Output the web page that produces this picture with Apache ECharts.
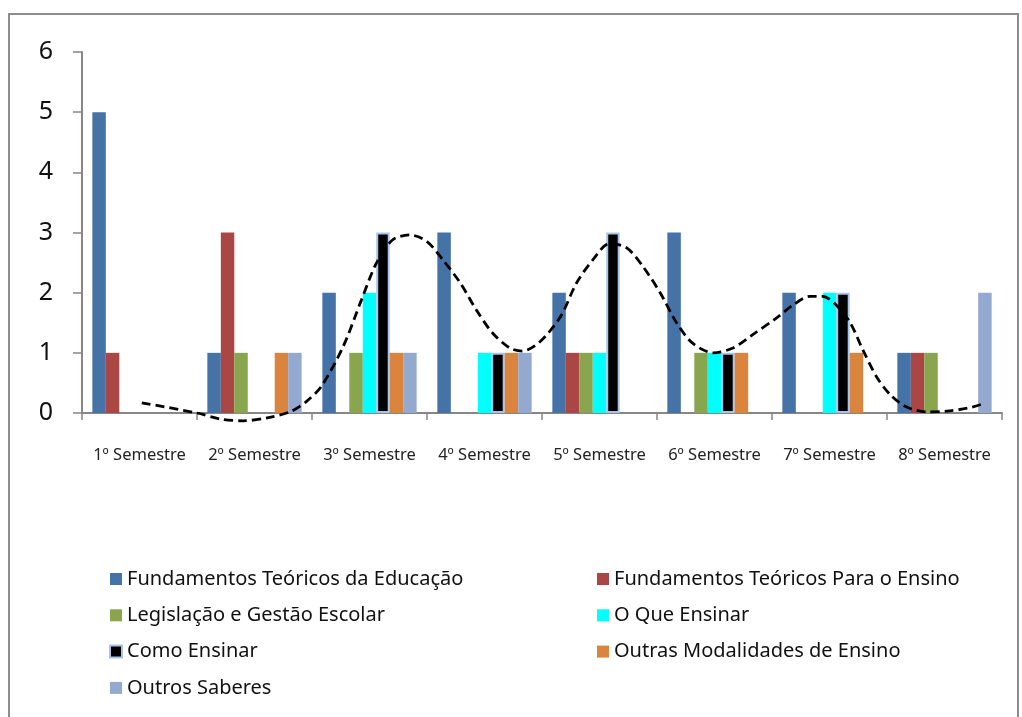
<!DOCTYPE html>
<html>
<head>
<meta charset="utf-8">
<style>
  html, body { margin: 0; padding: 0; background: #ffffff; }
  #chart { width: 1022px; height: 717px; }
</style>
<script src="https://cdn.jsdelivr.net/npm/echarts@6/dist/echarts.min.js"></script>
</head>
<body>
<div id="chart"></div>
<script>
// Semesters on the category axis
const semesters = ['1º Semestre', '2º Semestre', '3º Semestre', '4º Semestre',
                   '5º Semestre', '6º Semestre', '7º Semestre', '8º Semestre'];

// Number of disciplines per group and semester
const fundEducacao   = [5, 1, 2, 3, 2, 3, 2, 1];
const fundEnsino     = [1, 3, 0, 0, 1, 0, 0, 1];
const legislacao     = [0, 1, 1, 0, 1, 1, 0, 1];
const oQueEnsinar    = [0, 0, 2, 1, 1, 1, 2, 0];
const comoEnsinar    = [0, 0, 3, 1, 3, 1, 2, 0];
const outrasModal    = [0, 1, 1, 1, 0, 1, 1, 0];
const outrosSaberes  = [0, 1, 1, 1, 0, 0, 0, 2];

// Trend curve: [position in semester units along the axis, value]
const trendX = [0.52, 1.0, 1.2, 1.4, 1.61, 1.81, 1.95, 2.08, 2.27, 2.43, 2.56, 2.70, 2.85,
                3.0, 3.14, 3.29, 3.43, 3.57, 3.72, 3.83, 3.98, 4.16, 4.30, 4.44, 4.59, 4.74,
                4.88, 5.03, 5.17, 5.31, 5.49, 5.66, 5.83, 6.04, 6.18, 6.33, 6.44, 6.56, 6.68,
                6.79, 6.91, 7.03, 7.17, 7.34, 7.52, 7.70, 7.83];
const trendY = [0.17, 0.0, -0.10, -0.13, -0.08, 0.02, 0.19, 0.44, 1.1, 1.88, 2.49, 2.875, 2.96,
                2.85, 2.54, 2.16, 1.71, 1.33, 1.08, 1.03, 1.18, 1.6, 2.16, 2.54, 2.82, 2.74,
                2.43, 1.99, 1.5, 1.16, 1.0, 1.08, 1.3, 1.58, 1.79, 1.94, 1.94, 1.79, 1.5,
                1.05, 0.6, 0.3, 0.1, 0.02, 0.03, 0.08, 0.15];

const yTicks = [0, 1, 2, 3, 4, 5, 6];

const names = [
  'Fundamentos Teóricos da Educação',
  'Fundamentos Teóricos Para o Ensino',
  'Legislação e Gestão Escolar',
  'O Que Ensinar',
  'Como Ensinar',
  'Outras Modalidades de Ensino',
  'Outros Saberes'
];
const values = [fundEducacao, fundEnsino, legislacao, oQueEnsinar, comoEnsinar, outrasModal, outrosSaberes];
const colors = ['#4572a7', '#aa4643', '#89a54e', '#00ffff', '#000000', '#db843d', '#93a9cf'];

const FONT = '"Noto Sans", "DejaVu Sans", sans-serif';

// Empty semesters get no bar, so outlined bars leave no stroke on the baseline
const barSeries = names.map((n, i) => ({
  name: n,
  type: 'bar',
  xAxisIndex: 0,
  yAxisIndex: 0,
  barGap: '0%',
  barCategoryGap: '18%',
  data: values[i].map(v => (v === 0 ? '-' : v)),
  itemStyle: i === 4
    ? { color: colors[i], borderColor: '#a9c4eb', borderWidth: 2 }
    : { color: colors[i] },
  emphasis: { disabled: true }
}));

const trendSeries = {
  name: 'tendência',
  type: 'line',
  xAxisIndex: 1,
  yAxisIndex: 0,
  data: trendX.map((x, i) => [x, trendY[i]]),
  smooth: 0.3,
  symbol: 'none',
  clip: false,
  silent: true,
  lineStyle: { color: '#000000', width: 2.8, type: [9, 5] },
  z: 5
};

const legendText = { fontFamily: FONT, fontSize: 20, color: '#111', lineHeight: 20 };

const chart = echarts.init(document.getElementById('chart'), null, { renderer: 'canvas' });
chart.setOption({
  animation: false,
  backgroundColor: '#ffffff',
  textStyle: { fontFamily: FONT },
  graphic: [{
    type: 'rect',
    shape: { x: 9, y: 14, width: 1009, height: 720 },
    style: { fill: 'none', stroke: '#8c8c8c', lineWidth: 2 },
    silent: true,
    z: -10
  }],
  grid: { left: 82, right: 20, top: 52, bottom: 304, containLabel: false },
  xAxis: [{
    type: 'category',
    data: semesters,
    boundaryGap: true,
    axisLine: { lineStyle: { color: '#878787', width: 2 } },
    axisTick: { show: true, interval: 0, length: 7, lineStyle: { color: '#878787', width: 1.5 } },
    axisLabel: { interval: 0, hideOverlap: false, fontFamily: FONT, fontSize: 16.5, color: '#222', margin: 34 },
    splitLine: { show: false }
  }, {
    type: 'value',
    min: 0,
    max: 8,
    show: false
  }],
  yAxis: [{
    type: 'value',
    min: yTicks[0],
    max: yTicks[yTicks.length - 1],
    interval: 1,
    axisLine: { show: true, lineStyle: { color: '#878787', width: 2 } },
    axisTick: { show: true, length: 9, lineStyle: { color: '#878787', width: 1.5 } },
    axisLabel: { fontFamily: FONT, fontSize: 25, color: '#111', margin: 29 },
    splitLine: { show: false }
  }],
  legend: [{
    orient: 'vertical',
    left: 104,
    top: 564,
    itemWidth: 12,
    itemHeight: 12,
    itemGap: 16.3,
    icon: 'rect',
    textStyle: legendText,
    data: [names[0], names[2], names[4], names[6]],
    selectedMode: false
  }, {
    orient: 'vertical',
    left: 592,
    top: 564,
    itemWidth: 12,
    itemHeight: 12,
    itemGap: 16.3,
    icon: 'rect',
    textStyle: legendText,
    data: [names[1], names[3], names[5]],
    selectedMode: false
  }],
  series: barSeries.concat([trendSeries])
});
</script>
</body>
</html>
